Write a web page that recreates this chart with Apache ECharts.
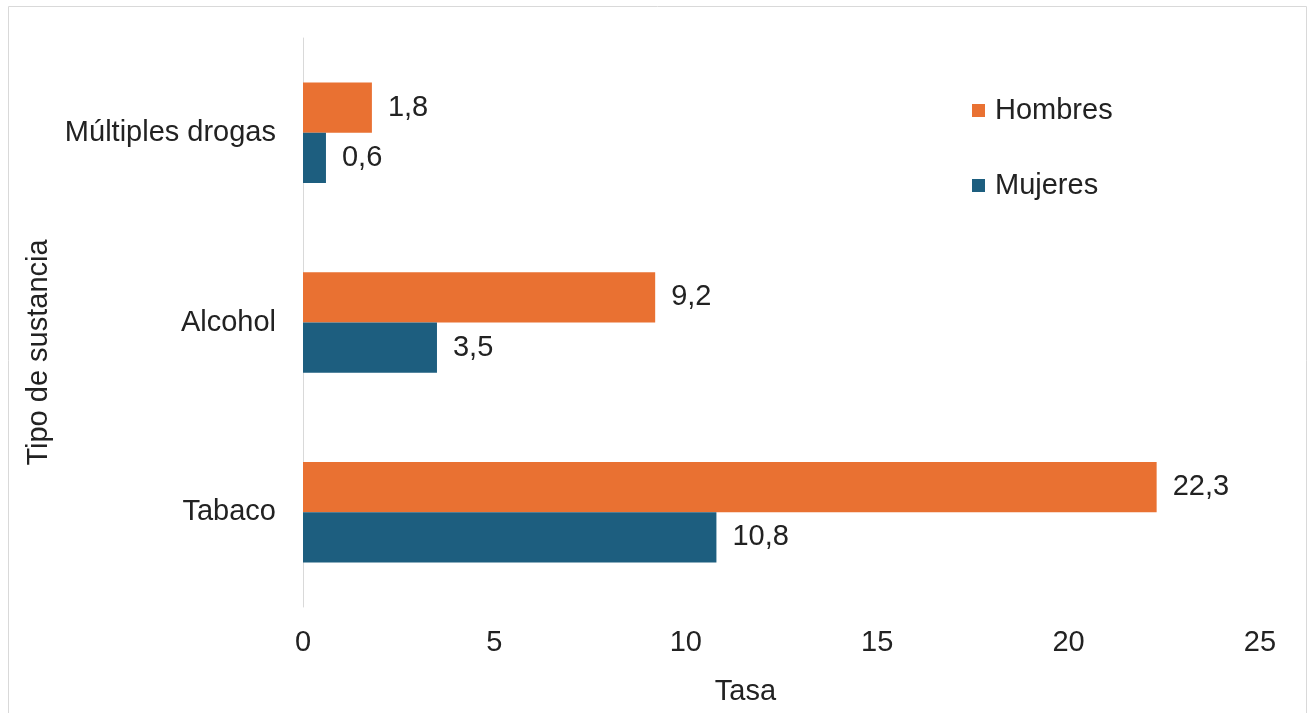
<!DOCTYPE html>
<html>
<head>
<meta charset="utf-8">
<script src="https://cdn.jsdelivr.net/npm/echarts@6/dist/echarts.min.js"></script>
<style>
  html, body { margin: 0; padding: 0; background: #fff; }
  #chart { width: 1311px; height: 713px; }
</style>
</head>
<body>
<div id="chart"></div>
<script>
const categories = ["Múltiples drogas", "Alcohol", "Tabaco"];
const hombres = [1.8, 9.2, 22.3];
const mujeres = [0.6, 3.5, 10.8];
const seriesNames = ["Hombres", "Mujeres"];

const font = "Liberation Sans, Arial, sans-serif";
const fs = 29;
const fmt = (p) => String(p.value).replace(".", ",");

const chart = echarts.init(document.getElementById("chart"));
chart.setOption({
  animation: false,
  textStyle: { fontFamily: font },
  graphic: [
    {
      type: "rect",
      shape: { x: 8.5, y: 6.5, width: 1298, height: 720 },
      style: { fill: "none", stroke: "#d9d9d9", lineWidth: 1 },
      silent: true,
    },
  ],
  legend: {
    orient: "vertical",
    left: 967,
    top: 91,
    itemGap: 46,
    itemWidth: 13,
    itemHeight: 13,
    icon: "rect",
    data: seriesNames,
    textStyle: { fontSize: fs, color: "#222", fontFamily: font, padding: [0, 0, 0, 5] },
  },
  grid: {
    left: 303,
    right: 51,
    top: 38,
    bottom: 106,
    containLabel: false,
  },
  xAxis: {
    type: "value",
    min: 0,
    max: 25,
    interval: 5,
    name: "Tasa",
    nameLocation: "middle",
    nameGap: 70,
    nameTextStyle: { fontSize: fs, color: "#222", fontFamily: font, padding: [0, 72, 0, 0] },
    axisLine: { show: false },
    axisTick: { show: false },
    splitLine: { show: false },
    axisLabel: { fontSize: fs, color: "#222", margin: 21, fontFamily: font },
  },
  yAxis: {
    type: "category",
    data: categories,
    inverse: true,
    name: "Tipo de sustancia",
    nameLocation: "middle",
    nameGap: 250,
    nameRotate: 90,
    nameTextStyle: { fontSize: fs, color: "#222", fontFamily: font, padding: [0, 60, 0, 0] },
    axisLine: { show: true, lineStyle: { color: "#d9d9d9" } },
    axisTick: { show: false },
    axisLabel: { fontSize: fs, color: "#222", margin: 27, fontFamily: font },
  },
  series: [
    {
      name: "Hombres",
      type: "bar",
      data: hombres,
      barGap: "0%",
      barCategoryGap: "47%",
      itemStyle: { color: "#E97132" },
      label: { show: true, position: "right", distance: 16, fontSize: fs, color: "#222", fontFamily: font, formatter: fmt },
    },
    {
      name: "Mujeres",
      type: "bar",
      data: mujeres,
      barGap: "0%",
      barCategoryGap: "47%",
      itemStyle: { color: "#1D5E7F" },
      label: { show: true, position: "right", distance: 16, fontSize: fs, color: "#222", fontFamily: font, formatter: fmt },
    },
  ],
});
</script>
</body>
</html>
